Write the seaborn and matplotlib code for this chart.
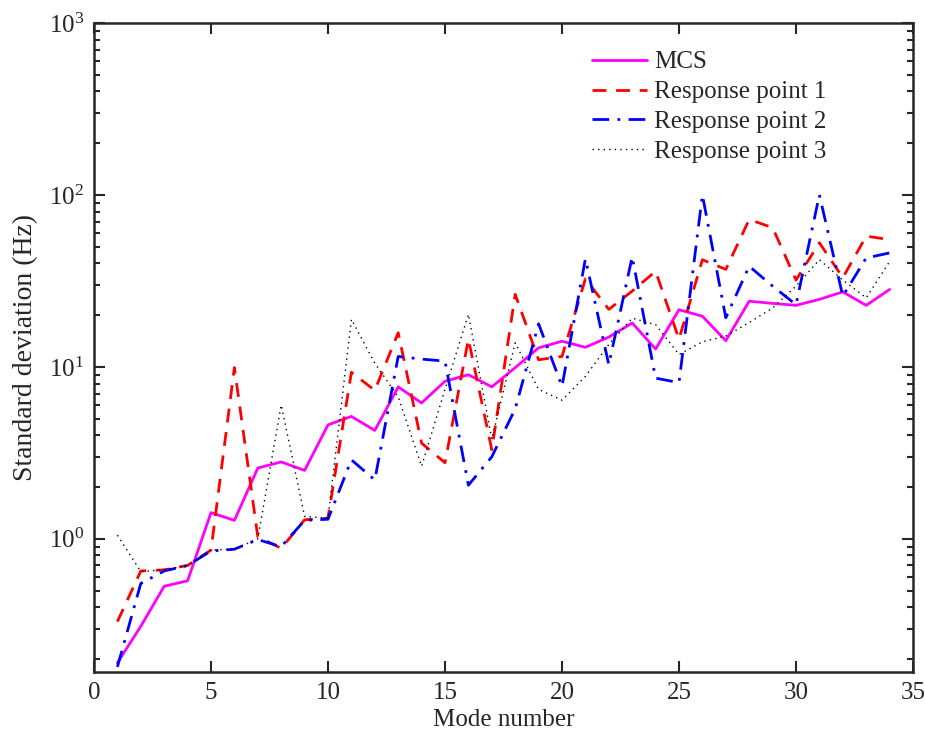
import numpy as np
import pandas as pd
import matplotlib
matplotlib.use("Agg")
import matplotlib.pyplot as plt
import seaborn as sns
from matplotlib.ticker import LogLocator, NullFormatter

# ---- data ----
mode = list(range(1, 35))
mcs = [0.19, 0.31, 0.53, 0.57, 1.42, 1.28, 2.58, 2.80, 2.50, 4.6,
       5.15, 4.27, 7.65, 6.17, 8.25, 9.0, 7.65, 9.9, 12.9, 14.1,
       13.0, 14.9, 18.0, 12.7, 21.5, 19.7, 14.2, 24.1, 23.4, 22.8,
       24.7, 27.3, 22.8, 28.2]
rp1 = [0.33, 0.65, 0.66, 0.70, 0.86, 9.9, 1.03, 0.88, 1.29, 1.32,
       9.3, 7.3, 15.8, 3.6, 2.77, 14.5, 3.3, 26.4, 11.0, 11.5,
       32.5, 21.6, 27.6, 36.0, 14.5, 42.0, 36.9, 72.0, 64.5, 32.0,
       52.7, 33.0, 57.6, 55.0]
rp2 = [0.18, 0.55, 0.65, 0.70, 0.85, 0.87, 0.99, 0.90, 1.28, 1.30,
       2.88, 2.2, 11.5, 11.1, 10.8, 2.05, 3.0, 5.7, 17.8, 7.7,
       42.5, 10.3, 43.7, 8.6, 8.1, 100.0, 19.3, 38.5, 29.5, 23.0,
       100.0, 25.8, 43.0, 46.0]
rp3 = [1.05, 0.645, 0.66, 0.70, 0.86, 0.87, 1.0, 6.0, 1.35, 1.32,
       18.9, 10.5, 6.7, 2.64, 7.4, 20.2, 3.8, 13.8, 7.4, 6.4,
       8.8, 13.5, 19.2, 17.6, 11.8, 14.0, 15.1, 18.1, 22.0, 29.5,
       42.0, 32.0, 25.2, 41.0]
series_names = ["MCS", "Response point 1", "Response point 2", "Response point 3"]
x_ticks = [0, 5, 10, 15, 20, 25, 30, 35]

sns.set_style("ticks")
plt.rcParams["font.family"] = ["Liberation Serif", "DejaVu Serif"]
plt.rcParams["mathtext.fontset"] = "custom"
plt.rcParams["mathtext.rm"] = "Liberation Serif"
plt.rcParams["mathtext.it"] = "Liberation Serif:italic"
plt.rcParams["font.size"] = 18

fig = plt.figure(figsize=(9.25, 7.30), dpi=100)
L, R, T, B = 94, 913, 23, 672
ax = fig.add_axes([L/925, 1 - B/730, (R-L)/925, (B-T)/730])

df = pd.DataFrame({"mode": mode, "MCS": mcs, "Response point 1": rp1,
                   "Response point 2": rp2, "Response point 3": rp3})
styles = {
    "MCS": dict(color="#ff00ff", linestyle="-", linewidth=2.0),
    "Response point 1": dict(color="#ff0000", linestyle=(0, (5, 3.5)), linewidth=2.0),
    "Response point 2": dict(color="#0000ff", linestyle=(0, (6, 3, 1, 3)), linewidth=2.0),
    "Response point 3": dict(color="#000000", linestyle=(0, (1, 3)), linewidth=1.0),
}
for name in series_names:
    sns.lineplot(data=df, x="mode", y=name, ax=ax, label=name, **styles[name])

ax.set_yscale("log")
ax.set_xlim(0, 35)
ax.set_ylim(10 ** (-0.7746), 1000)
ax.set_xticks(x_ticks)
ax.set_xticklabels([str(t) for t in x_ticks])
ax.yaxis.set_major_locator(LogLocator(base=10, numticks=10))
ax.yaxis.set_minor_locator(LogLocator(base=10, subs=np.arange(2, 10), numticks=20))
ax.yaxis.set_minor_formatter(NullFormatter())

ax.tick_params(which="both", direction="in", top=True, right=True, labelsize=18, width=1.5)
ax.tick_params(which="major", length=8, pad=7)
ax.tick_params(which="minor", length=4)
for s in ax.spines.values():
    s.set_linewidth(1.8)
    s.set_visible(True)

ax.set_xlabel("Mode number", fontsize=18, labelpad=3.5)
ax.set_ylabel("Standard deviation (Hz)", fontsize=20, labelpad=8)

leg = ax.legend(loc="upper left", bbox_to_anchor=((592-L)/(R-L), 1 - (51-T)/(B-T)),
                frameon=False, fontsize=18, handlelength=2.2, handletextpad=0.3,
                labelspacing=0.29, borderaxespad=0, borderpad=0)

fig.savefig("out.png", dpi=100)
